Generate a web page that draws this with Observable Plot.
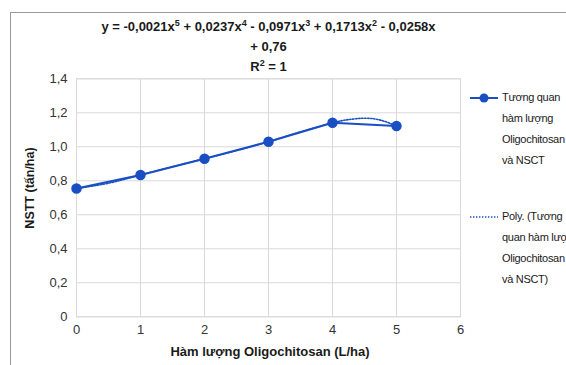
<!DOCTYPE html>
<html>
<head>
<meta charset="utf-8">
<script src="https://cdn.jsdelivr.net/npm/d3@7"></script>
<script src="https://cdn.jsdelivr.net/npm/@observablehq/plot@0.6"></script>
<style>
  html, body { margin: 0; padding: 0; background: #fff; }
  #wrap { position: relative; width: 566px; height: 365px; overflow: hidden; font-family: "Liberation Sans", Arial, sans-serif; color: #1a1a1a; }
  #frame { position: absolute; left: 10px; top: 12px; width: 600px; height: 400px; border-left: 1px solid #9a9a9a; border-top: 1px solid #9a9a9a; }
  #chart { position: absolute; left: 0; top: 0; }
  #title { position: absolute; left: 0; top: 17px; width: 537px; text-align: center; font-weight: bold; font-size: 13px; line-height: 20px; }
  #title sup { font-size: 9px; vertical-align: 5px; line-height: 0; }
  #xlabel { position: absolute; left: 0; top: 344px; width: 540px; text-align: center; font-weight: bold; font-size: 13px; }
  #ylabel { position: absolute; left: 30px; top: 188px; transform: translate(-50%, -50%) rotate(-90deg); font-weight: bold; font-size: 12.5px; white-space: nowrap; }
  .leg { position: absolute; font-size: 11px; letter-spacing: -0.3px; line-height: 21px; color: #1a1a1a; white-space: nowrap; }
  .legsym { position: absolute; }
</style>
</head>
<body>
<div id="wrap">
  <div id="frame"></div>
  <div id="chart"></div>
  <div id="title"></div>
  <div id="xlabel"></div>
  <div id="ylabel"></div>
  <svg class="legsym" id="sym1" width="34" height="12" style="left:468px; top:92px"></svg>
  <div class="leg" id="leg1" style="left:502px; top:87px"></div>
  <svg class="legsym" id="sym2" width="34" height="12" style="left:468px; top:211px"></svg>
  <div class="leg" id="leg2" style="left:502px; top:206px"></div>
</div>
<script>
// Data
const doses = [0, 1, 2, 3, 4, 5];                        // Oligochitosan (L/ha)
const yields = [0.755, 0.834, 0.93, 1.03, 1.141, 1.122];  // NSTT (tấn/ha)

// Polynomial trend line (dotted)
const trendX = [0, 0.5, 1, 1.5, 2, 2.5, 3, 3.5, 4, 4.25, 4.5, 4.75, 5];
const trendY = [0.755, 0.786, 0.834, 0.883, 0.93, 0.977, 1.03, 1.088, 1.141, 1.16, 1.168, 1.157, 1.122];

const xTicks = [0, 1, 2, 3, 4, 5, 6];
const yTicks = [0, 0.2, 0.4, 0.6, 0.8, 1.0, 1.2, 1.4];

const titleLines = [
  'y = -0,0021x<sup>5</sup> + 0,0237x<sup>4</sup> - 0,0971x<sup>3</sup> + 0,1713x<sup>2</sup> - 0,0258x',
  '+ 0,76',
  'R<sup>2</sup> = 1'
];
const xLabel = "Hàm lượng Oligochitosan (L/ha)";
const yLabel = "NSTT (tấn/ha)";
const legend1 = ["Tương quan", "hàm lượng", "Oligochitosan", "và NSCT"];
const legend2 = ["Poly. (Tương", "quan hàm lượng", "Oligochitosan", "và NSCT)"];

const blue = "#1a4fc4";
const grid = "#d9d9d9";

const data = doses.map((d, i) => ({x: d, y: yields[i]}));
const trend = trendX.map((d, i) => ({x: d, y: trendY[i]}));
const fmtY = d => d === 0 ? "0" : d.toFixed(1).replace(".", ",");
const fmtX = d => String(d);

const chart = Plot.plot({
  width: 566,
  height: 365,
  marginLeft: 76,
  marginRight: 106,
  marginTop: 78.3,
  marginBottom: 48.7,
  x: {domain: [0, 6]},
  y: {domain: [0, 1.4]},
  style: {fontFamily: "'Liberation Sans', Arial, sans-serif", fontSize: "13px", color: "#333", background: "transparent", overflow: "visible"},
  marks: [
    Plot.gridX(xTicks, {stroke: grid, strokeOpacity: 1}),
    Plot.gridY(yTicks, {stroke: grid, strokeOpacity: 1}),
    Plot.frame({stroke: grid}),
    Plot.axisX(xTicks, {tickSize: 0, tickPadding: 8, label: null, tickFormat: fmtX, fontSize: 13}),
    Plot.axisY(yTicks, {tickSize: 0, tickPadding: 9, label: null, tickFormat: fmtY, fontSize: 13}),
    Plot.line(trend, {x: "x", y: "y", curve: "natural", stroke: blue, strokeWidth: 1.6, strokeDasharray: "1.4 1.6"}),
    Plot.line(data, {x: "x", y: "y", stroke: blue, strokeWidth: 2}),
    Plot.dot(data, {x: "x", y: "y", r: 4.5, fill: blue, stroke: blue})
  ]
});
document.getElementById("chart").appendChild(chart);

document.getElementById("title").innerHTML = titleLines.join("<br>");
document.getElementById("xlabel").textContent = xLabel;
document.getElementById("ylabel").textContent = yLabel;
document.getElementById("leg1").innerHTML = legend1.join("<br>");
document.getElementById("leg2").innerHTML = legend2.join("<br>");

const s1 = d3.select("#sym1");
s1.append("line").attr("x1", 2).attr("x2", 30).attr("y1", 6).attr("y2", 6).attr("stroke", blue).attr("stroke-width", 2);
s1.append("circle").attr("cx", 16).attr("cy", 6).attr("r", 4.5).attr("fill", blue);
const s2 = d3.select("#sym2");
s2.append("line").attr("x1", 2).attr("x2", 30).attr("y1", 6).attr("y2", 6).attr("stroke", blue).attr("stroke-width", 1.6).attr("stroke-dasharray", "1.4 1.6");
</script>
</body>
</html>
